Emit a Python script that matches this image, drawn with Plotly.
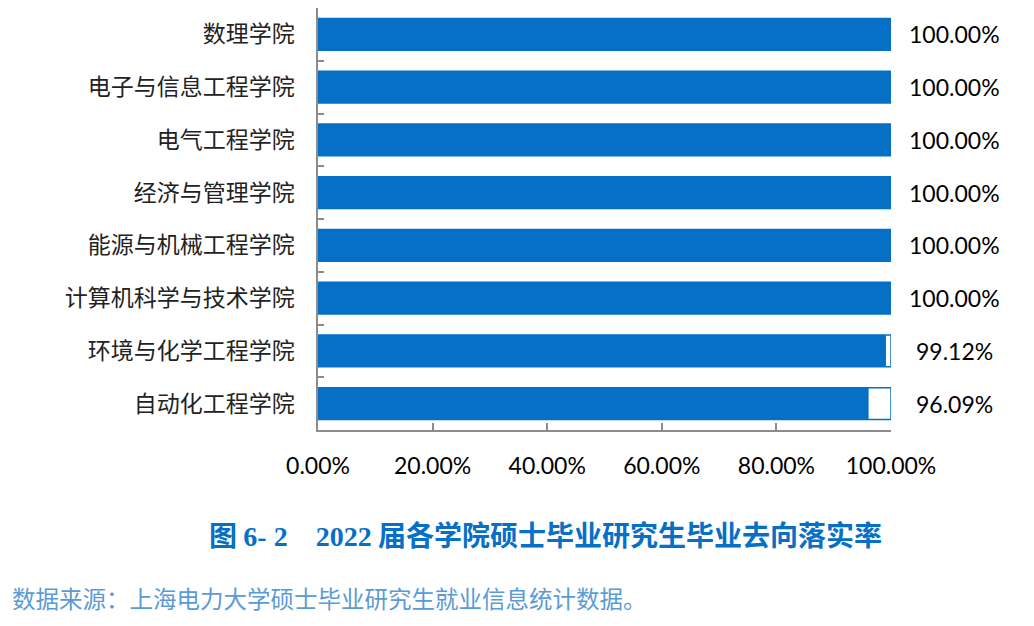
import plotly.graph_objects as go

categories = ["数理学院", "电子与信息工程学院", "电气工程学院", "经济与管理学院",
              "能源与机械工程学院", "计算机科学与技术学院", "环境与化学工程学院", "自动化工程学院"]
values = [100.00, 100.00, 100.00, 100.00, 100.00, 100.00, 99.12, 96.09]
full = [100.0] * len(categories)
x_ticks = [0, 20, 40, 60, 80, 100]
x_tick_labels = ["0.00%", "20.00%", "40.00%", "60.00%", "80.00%", "100.00%"]
title_text = ("图 <span style='font-family:Liberation Serif'>6- 2</span>　"
              "<span style='font-family:Liberation Serif'>2022</span> 届各学院硕士毕业研究生毕业去向落实率")
source_text = "数据来源：上海电力大学硕士毕业研究生就业信息统计数据。"

BLUE = "#0570C6"
CJK = "Noto Sans CJK SC"
LAT = "Lato, Open Sans, sans-serif"

W, H = 1026, 618
L, R, T, B = 310, 143, 0, 196
PW, PH = W - L - R, H - T - B


def px(x):
    return (x - L) / PW


def py(y):
    return 1 - (y - T) / PH


fig = go.Figure()
fig.add_trace(go.Bar(y=categories, x=full, orientation="h", width=0.6,
                     marker=dict(color="white", line=dict(color=BLUE, width=1.5)),
                     hoverinfo="skip", showlegend=False))
fig.add_trace(go.Bar(y=categories, x=values, orientation="h", width=0.6,
                     marker=dict(color=BLUE, line=dict(width=0)),
                     showlegend=False))

for c, v in zip(categories, values):
    fig.add_annotation(x=100, y=c, xref="x", yref="y", text=f"{v:.2f}%",
                       showarrow=False, xanchor="center", xshift=63,
                       font=dict(family=LAT, size=23, color="black"))

fig.add_annotation(x=px(537.5), y=py(526), xref="paper", yref="paper", text=title_text,
                   showarrow=False, xanchor="center", yanchor="middle",
                   font=dict(family=CJK, size=28, color=BLUE, weight="bold"))
fig.add_annotation(x=px(2), y=py(590), xref="paper", yref="paper", text=source_text,
                   showarrow=False, xanchor="left", yanchor="middle",
                   font=dict(family=CJK, size=23.5, color="#5B9BD5"))

fig.update_layout(
    width=W, height=H,
    margin=dict(l=L, r=R, t=T, b=B),
    barmode="overlay",
    plot_bgcolor="white", paper_bgcolor="white",
    xaxis=dict(range=[0, 100], tickvals=x_ticks, ticktext=x_tick_labels,
               showgrid=False, zeroline=False, showline=True,
               linecolor="#8c8c8c", linewidth=1.5,
               ticks="inside", ticklen=7, tickcolor="#8c8c8c", tickwidth=1.5,
               ticklabelstandoff=15,
               tickfont=dict(family=LAT, size=23, color="black")),
    yaxis=dict(autorange="reversed", showgrid=False, zeroline=False, showline=True,
               linecolor="#8c8c8c", linewidth=1.5,
               ticks="inside", ticklen=6, tickcolor="#8c8c8c", tickwidth=1.5,
               tickson="boundaries", ticklabelstandoff=17,
               tickfont=dict(family=CJK, size=23, color="#222222")),
)

fig.write_html("out.html")
